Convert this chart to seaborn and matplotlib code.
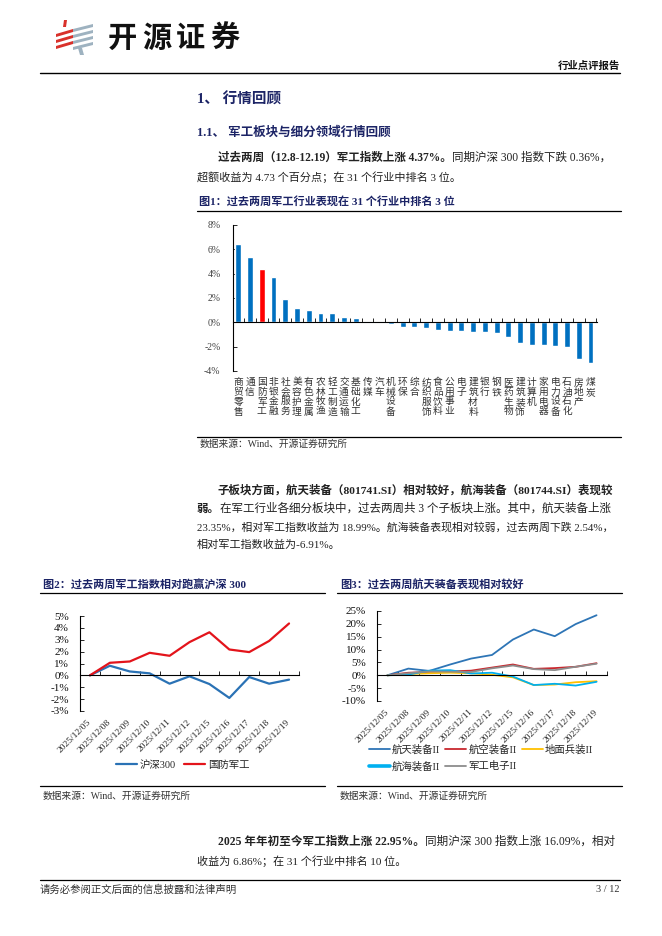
import matplotlib
matplotlib.use('Agg')
import matplotlib.pyplot as plt
import seaborn as sns
import pandas as pd
from matplotlib.lines import Line2D
from matplotlib.patches import Polygon

# ---- data ----
industries = ['商贸零售', '通信', '国防军工', '非银金融', '社会服务', '美容护理', '有色金属',
              '农林牧渔', '轻工制造', '交通运输', '基础化工', '传媒', '汽车', '机械设备', '环保',
              '综合', '纺织服饰', '食品饮料', '公用事业', '电子', '建筑材料', '银行', '钢铁',
              '医药生物', '建筑装饰', '计算机', '家用电器', '电力设备', '石油石化', '房地产', '煤炭']
ind_returns = [6.45, 5.33, 4.37, 3.75, 1.89, 1.18, 1.00, 0.78, 0.75, 0.44, 0.33, 0.08, 0.05,
               -0.17, -0.36, -0.37, -0.46, -0.60, -0.68, -0.73, -0.79, -0.82, -0.88, -1.18,
               -1.72, -1.83, -1.84, -1.96, -1.99, -3.05, -3.35]

dates = ['2025/12/05', '2025/12/08', '2025/12/09', '2025/12/10', '2025/12/11', '2025/12/12',
         '2025/12/15', '2025/12/16', '2025/12/17', '2025/12/18', '2025/12/19']
hs300 = [0, 0.81, 0.33, 0.17, -0.70, -0.08, -0.73, -1.90, -0.14, -0.70, -0.36]
defense = [0, 1.06, 1.17, 1.90, 1.65, 2.80, 3.63, 2.18, 1.96, 2.90, 4.37]

aerospace = [0, 2.6, 1.7, 4.2, 6.5, 7.9, 13.9, 17.8, 15.2, 19.9, 23.35]
aviation = [0, 1.0, 1.3, 1.5, 1.8, 3.0, 4.2, 2.5, 2.8, 3.3, 4.7]
ground = [0, 0.5, 0.8, 1.0, 0.8, 0.2, -0.8, -3.8, -3.6, -2.7, -2.3]
marine = [0, 0.3, 1.8, 2.0, 0.7, 1.0, -0.5, -3.8, -3.3, -4.0, -2.54]
electronics = [0, 0.8, 1.5, 1.4, 1.3, 2.7, 3.8, 2.4, 2.0, 3.3, 4.5]

sub_names = ['航天装备II', '航空装备II', '地面兵装II', '航海装备II', '军工电子II']
sub_colors = ['#2E75B6', '#C8282E', '#FFC000', '#00B0F0', '#8C8C8C']

NAVY = '#1c2466'
TXT = '#222222'
W, H = 662, 936

sns.set_style('white')
plt.rcParams['font.family'] = ['Liberation Serif', 'Noto Sans CJK SC']
plt.rcParams['axes.unicode_minus'] = False

fig = plt.figure(figsize=(W / 100, H / 100), dpi=100)
renderer = fig.canvas.get_renderer()


def fx(x):
    return x / W


def fy(y):
    return 1 - y / H


def rule(x0, x1, y, lw=0.9):
    fig.add_artist(Line2D([fx(x0), fx(x1)], [fy(y), fy(y)], transform=fig.transFigure,
                          color='black', lw=lw))


def _draw_runs(x, y, parts, size, color):
    objs = []
    for txt, bold in parts:
        t = fig.text(fx(x), fy(y), txt, fontsize=size, color=color, va='center', ha='left',
                     fontweight='bold' if bold else 'normal')
        x = t.get_window_extent(renderer).x1
        objs.append(t)
    return objs, x


def runs(x, y, parts, size=8, color=TXT, right=None):
    objs, end = _draw_runs(x, y, parts, size, color)
    if right is not None:
        # stretch / squeeze the font a bit so the line is justified like the source page
        new = min(max(size * (right - x) / (end - x), size * 0.94), size * 1.08)
        for t in objs:
            t.remove()
        _draw_runs(x, y, parts, new, color)


def poly(pts, color):
    fig.add_artist(Polygon([(fx(a), fy(b)) for a, b in pts], closed=True,
                           transform=fig.transFigure, color=color, lw=0))


# ---- header / logo ----
poly([(64, 20), (67, 20), (66, 27), (63, 27)], '#D9312B')
for i in range(3):
    y0 = 30 + 6 * i
    poly([(56, y0 + 4), (73, y0 - 1), (73, y0 + 2), (56, y0 + 7)], '#D9312B')
for i in range(4):
    y0 = 24 + 6 * i
    poly([(73, y0 + 5), (93, y0), (93, y0 + 3), (73, y0 + 8)], '#9EB2C0')
poly([(78, 48), (82, 48), (84, 55), (80, 55)], '#9EB2C0')
for i, ch in enumerate('开源证券'):
    fig.text(fx(108 + 34 * i), fy(38), ch, fontsize=21, fontweight='bold', color='#111111',
             va='center', ha='left', family=['Noto Sans CJK SC'])
fig.text(fx(620), fy(66), '行业点评报告', fontsize=7.5, fontweight='bold', ha='right', va='center',
         color='#111111')
rule(40, 620, 73, lw=1.0)

# ---- section text ----
fig.text(fx(197), fy(99), '1、 行情回顾', fontsize=10.5, fontweight='bold', color=NAVY, va='center')
fig.text(fx(197), fy(133), '1.1、 军工板块与细分领域行情回顾', fontsize=9, fontweight='bold',
         color=NAVY, va='center')
runs(218, 158, [('过去两周（12.8-12.19）军工指数上涨 4.37%。', True),
                ('同期沪深 300 指数下跌 0.36%，', False)], right=613)
runs(197, 177, [('超额收益为 4.73 个百分点；在 31 个行业中排名 3 位。', False)])
fig.text(fx(199), fy(201), '图1：过去两周军工行业表现在 31 个行业中排名 3 位', fontsize=8,
         fontweight='bold', color=NAVY, va='center')
rule(197, 621, 211)

# ---- chart 1: bar ----
ax1 = fig.add_axes([fx(233), fy(371), (597 - 233) / W, (371 - 225) / H])
df1 = pd.DataFrame({'industry': industries, 'ret': ind_returns})
bar_colors = ['#FF0000' if n == '国防军工' else '#0070C0' for n in industries]
sns.barplot(data=df1, x='industry', y='ret', hue='industry', palette=bar_colors, legend=False,
            width=0.5, saturation=1, ax=ax1)
ax1.set_xlabel('')
ax1.set_ylabel('')
ax1.set_xlim(-0.45, 30.55)
ax1.set_ylim(-4, 8)
ax1.set_yticks(range(-4, 9, 2))
ax1.set_yticklabels([f'{v}%' for v in range(-4, 9, 2)])
ax1.set_xticks([i + 0.5 for i in range(31)])
ax1.set_xticklabels([])
ax1.spines['top'].set_visible(False)
ax1.spines['right'].set_visible(False)
ax1.spines['bottom'].set_position(('data', 0))
for s in ('left', 'bottom'):
    ax1.spines[s].set_color('black')
    ax1.spines[s].set_linewidth(0.8)
ax1.tick_params(axis='x', direction='in', length=3, width=0.7, bottom=True)
ax1.tick_params(axis='y', direction='in', length=3, width=0.7, left=True, labelsize=7,
                labelcolor='#444444', pad=9)
sec1 = ax1.secondary_xaxis('bottom')
sec1.set_xticks(range(31))
sec1.set_xticklabels(['\n'.join(n) for n in industries])
sec1.tick_params(length=0, pad=5, labelsize=7, labelcolor='#333333')
sec1.spines['bottom'].set_visible(False)
for lab in sec1.get_xticklabels():
    lab.set_linespacing(1.1)
    lab.set_verticalalignment('top')

rule(197, 621, 437)
fig.text(fx(200), fy(444), '数据来源：Wind、开源证券研究所', fontsize=7, color='#333333', va='center')

runs(218, 490, [('子板块方面，航天装备（801741.SI）相对较好，航海装备（801744.SI）表现较', True)], right=613)
runs(197, 509, [('弱。', True), ('在军工行业各细分板块中，过去两周共 3 个子板块上涨。其中，航天装备上涨', False)],
     right=613)
runs(197, 527, [('23.35%，相对军工指数收益为 18.99%。航海装备表现相对较弱，过去两周下跌 2.54%，', False)],
     right=613)
runs(197, 545, [('相对军工指数收益为-6.91%。', False)])

# ---- chart 2 ----
fig.text(fx(43), fy(585), '图2：过去两周军工指数相对跑赢沪深 300', fontsize=8, fontweight='bold',
         color=NAVY, va='center')
rule(40, 325, 593)
ax2 = fig.add_axes([fx(80), fy(711), (299 - 80) / W, (711 - 616) / H])
df2 = pd.DataFrame({'pos': list(range(11)) * 2, 'val': hs300 + defense,
                    'series': ['沪深300'] * 11 + ['国防军工'] * 11})
pal2 = {'沪深300': '#2A72B5', '国防军工': '#E3141B'}
sns.lineplot(data=df2, x='pos', y='val', hue='series', palette=pal2, linewidth=1.6,
             legend=False, ax=ax2)

# ---- chart 3 ----
fig.text(fx(340), fy(585), '图3：过去两周航天装备表现相对较好', fontsize=8, fontweight='bold',
         color=NAVY, va='center')
rule(337, 622, 593)
ax3 = fig.add_axes([fx(377), fy(701), (607 - 377) / W, (701 - 611) / H])
df3 = pd.DataFrame({'pos': list(range(11)) * 5,
                    'val': aerospace + aviation + ground + marine + electronics,
                    'series': [n for n in sub_names for _ in range(11)]})
sns.lineplot(data=df3, x='pos', y='val', hue='series', palette=dict(zip(sub_names, sub_colors)),
             linewidth=1.3, legend=False, ax=ax3)

for ax, lo, hi, step in ((ax2, -3, 5, 1), (ax3, -10, 25, 5)):
    ax.set_xlabel('')
    ax.set_ylabel('')
    ax.set_xlim(-0.5, 10.5)
    ax.set_ylim(lo, hi)
    ax.set_yticks(range(lo, hi + 1, step))
    ax.set_yticklabels([f'{v}%' for v in range(lo, hi + 1, step)])
    ax.set_xticks([i + 0.5 for i in range(11)])
    ax.set_xticklabels([])
    ax.spines['top'].set_visible(False)
    ax.spines['right'].set_visible(False)
    ax.spines['bottom'].set_position(('data', 0))
    for s in ('left', 'bottom'):
        ax.spines[s].set_color('black')
        ax.spines[s].set_linewidth(0.8)
    ax.tick_params(axis='x', direction='in', length=3, width=0.7, bottom=True)
    ax.tick_params(axis='y', direction='in', length=3, width=0.7, left=True, labelsize=8,
                   labelcolor='#111111', pad=8)
    sec = ax.secondary_xaxis('bottom')
    sec.set_xticks(range(11))
    sec.set_xticklabels(dates, rotation=45, ha='right', rotation_mode='anchor', va='center')
    sec.tick_params(length=0, pad=7, labelsize=6.8, labelcolor='#222222')
    sec.spines['bottom'].set_visible(False)

# legends
h2 = [Line2D([], [], color=pal2[k], lw=1.6) for k in pal2]
fig.legend(h2, list(pal2), loc='center', bbox_to_anchor=(fx(183), fy(765)), ncol=2,
           frameon=False, fontsize=7.5, handlelength=2.0, handletextpad=0.3, columnspacing=0.8)
h3 = [Line2D([], [], color=c, lw=(2.6 if n == '航海装备II' else 1.3)) for n, c in zip(sub_names, sub_colors)]
order = [0, 3, 1, 4, 2]
fig.legend([h3[i] for i in order], [sub_names[i] for i in order], loc='center',
           bbox_to_anchor=(fx(481), fy(758)), ncol=3, frameon=False, fontsize=7.5,
           handlelength=2.0, handletextpad=0.2, columnspacing=0.5, labelspacing=0.6)

rule(40, 325, 786)
rule(337, 622, 786)
fig.text(fx(43), fy(796), '数据来源：Wind、开源证券研究所', fontsize=7, color='#333333', va='center')
fig.text(fx(340), fy(796), '数据来源：Wind、开源证券研究所', fontsize=7, color='#333333', va='center')

# ---- bottom text / footer ----
runs(218, 842, [('2025 年年初至今军工指数上涨 22.95%。', True), ('同期沪深 300 指数上涨 16.09%，相对', False)],
     right=613)
runs(197, 861, [('收益为 6.86%；在 31 个行业中排名 10 位。', False)])
rule(40, 620, 880)
fig.text(fx(40), fy(890), '请务必参阅正文后面的信息披露和法律声明', fontsize=7.5, color='#333333',
         va='center')
fig.text(fx(620), fy(890), '3 / 12', fontsize=7.5, color='#333333', va='center', ha='right')

fig.savefig('out.png', dpi=100, facecolor='white')
